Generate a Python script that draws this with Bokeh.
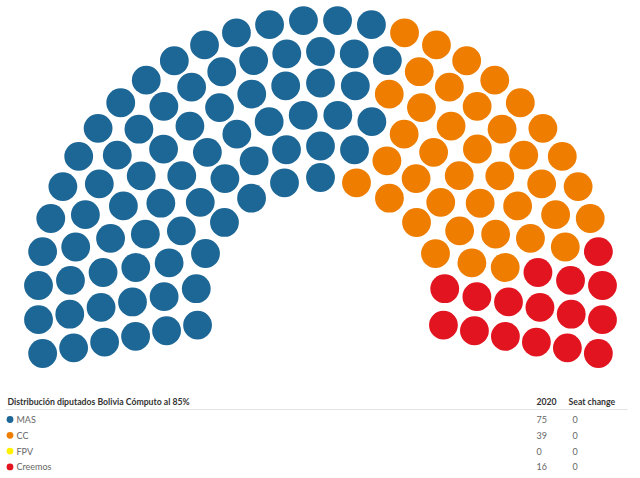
import math
from bokeh.plotting import figure
from bokeh.models import Range1d, ColumnDataSource
from bokeh.core.properties import value
from bokeh.embed import file_html
from bokeh.resources import INLINE

# ---- data ----
parties = ["MAS", "CC", "FPV", "Creemos"]
seats_2020 = [75, 39, 0, 16]
seat_change = [0, 0, 0, 0]
party_colors = ["#1d6796", "#ee7d00", "#fff200", "#e2141f"]
title = "Distribución diputados Bolivia Cómputo al 85%"
col_headers = ["2020", "Seat change"]
row_counts = [13, 17, 20, 23, 27, 30]

# ---- layout (pixel-like data space) ----
W, H = 640, 478
CX, CY = 320.0, 302.0
R_IN, R_OUT = 125.0, 282.5
THETA0 = 10.4  # degrees below horizontal on each side
SEAT_R = 14.4

seats = []
nrows = len(row_counts)
for i, n in enumerate(row_counts):
    r = R_IN + (R_OUT - R_IN) * i / (nrows - 1)
    start = 180 + THETA0
    span = 180 + 2 * THETA0
    for j in range(n):
        a = start - span * j / (n - 1)
        seats.append((a, r))
seats.sort(key=lambda s: (-s[0], s[1]))

xs, ys, cols = [], [], []
k = 0
for party, cnt, col in zip(parties, seats_2020, party_colors):
    for _ in range(cnt):
        a, r = seats[k]
        k += 1
        xs.append(CX + r * math.cos(math.radians(a)))
        ys.append(CY - r * math.sin(math.radians(a)))
        cols.append(col)

p = figure(width=W, height=H, x_range=Range1d(0, W), y_range=Range1d(H, 0),
           output_backend="svg", toolbar_location=None, min_border=0)
p.axis.visible = False
p.xgrid.visible = False
p.ygrid.visible = False
p.outline_line_color = None
p.background_fill_color = "white"
p.border_fill_color = "white"

p.circle(x=xs, y=ys, radius=SEAT_R, fill_color=cols, line_color=None)

FONT = value("Lato")
# header
p.text(x=[7], y=[401], text=[title], text_font=FONT, text_font_size="8.7px",
       text_font_style="bold", text_color="#333333", text_baseline="middle")
p.text(x=[536, 568], y=[401, 401], text=col_headers, text_font=FONT, text_font_size="8.7px",
       text_font_style="bold", text_color="#333333", text_baseline="middle")
p.segment(x0=[5], y0=[409], x1=[627], y1=[409], line_color="#e3e3e3", line_width=1)

row_y = [419 + i * 15.8 for i in range(len(parties))]
src = ColumnDataSource(dict(
    y=row_y, party=parties, color=party_colors,
    s2020=[str(v) for v in seats_2020], chg=[str(v) for v in seat_change],
    xd=[9.5] * len(parties), xl=[16] * len(parties),
    x1=[536] * len(parties), x2=[572] * len(parties)))
p.circle(x="xd", y="y", radius=3.4, fill_color="color", line_color=None, source=src)
p.text(x="xl", y="y", text="party", text_font=FONT, text_font_size="9px",
       text_color="#666666", text_baseline="middle", source=src)
p.text(x="x1", y="y", text="s2020", text_font=FONT, text_font_size="9px",
       text_color="#666666", text_baseline="middle", source=src)
p.text(x="x2", y="y", text="chg", text_font=FONT, text_font_size="9px",
       text_color="#666666", text_baseline="middle", source=src)

open("out.html", "w").write(file_html(p, INLINE))
